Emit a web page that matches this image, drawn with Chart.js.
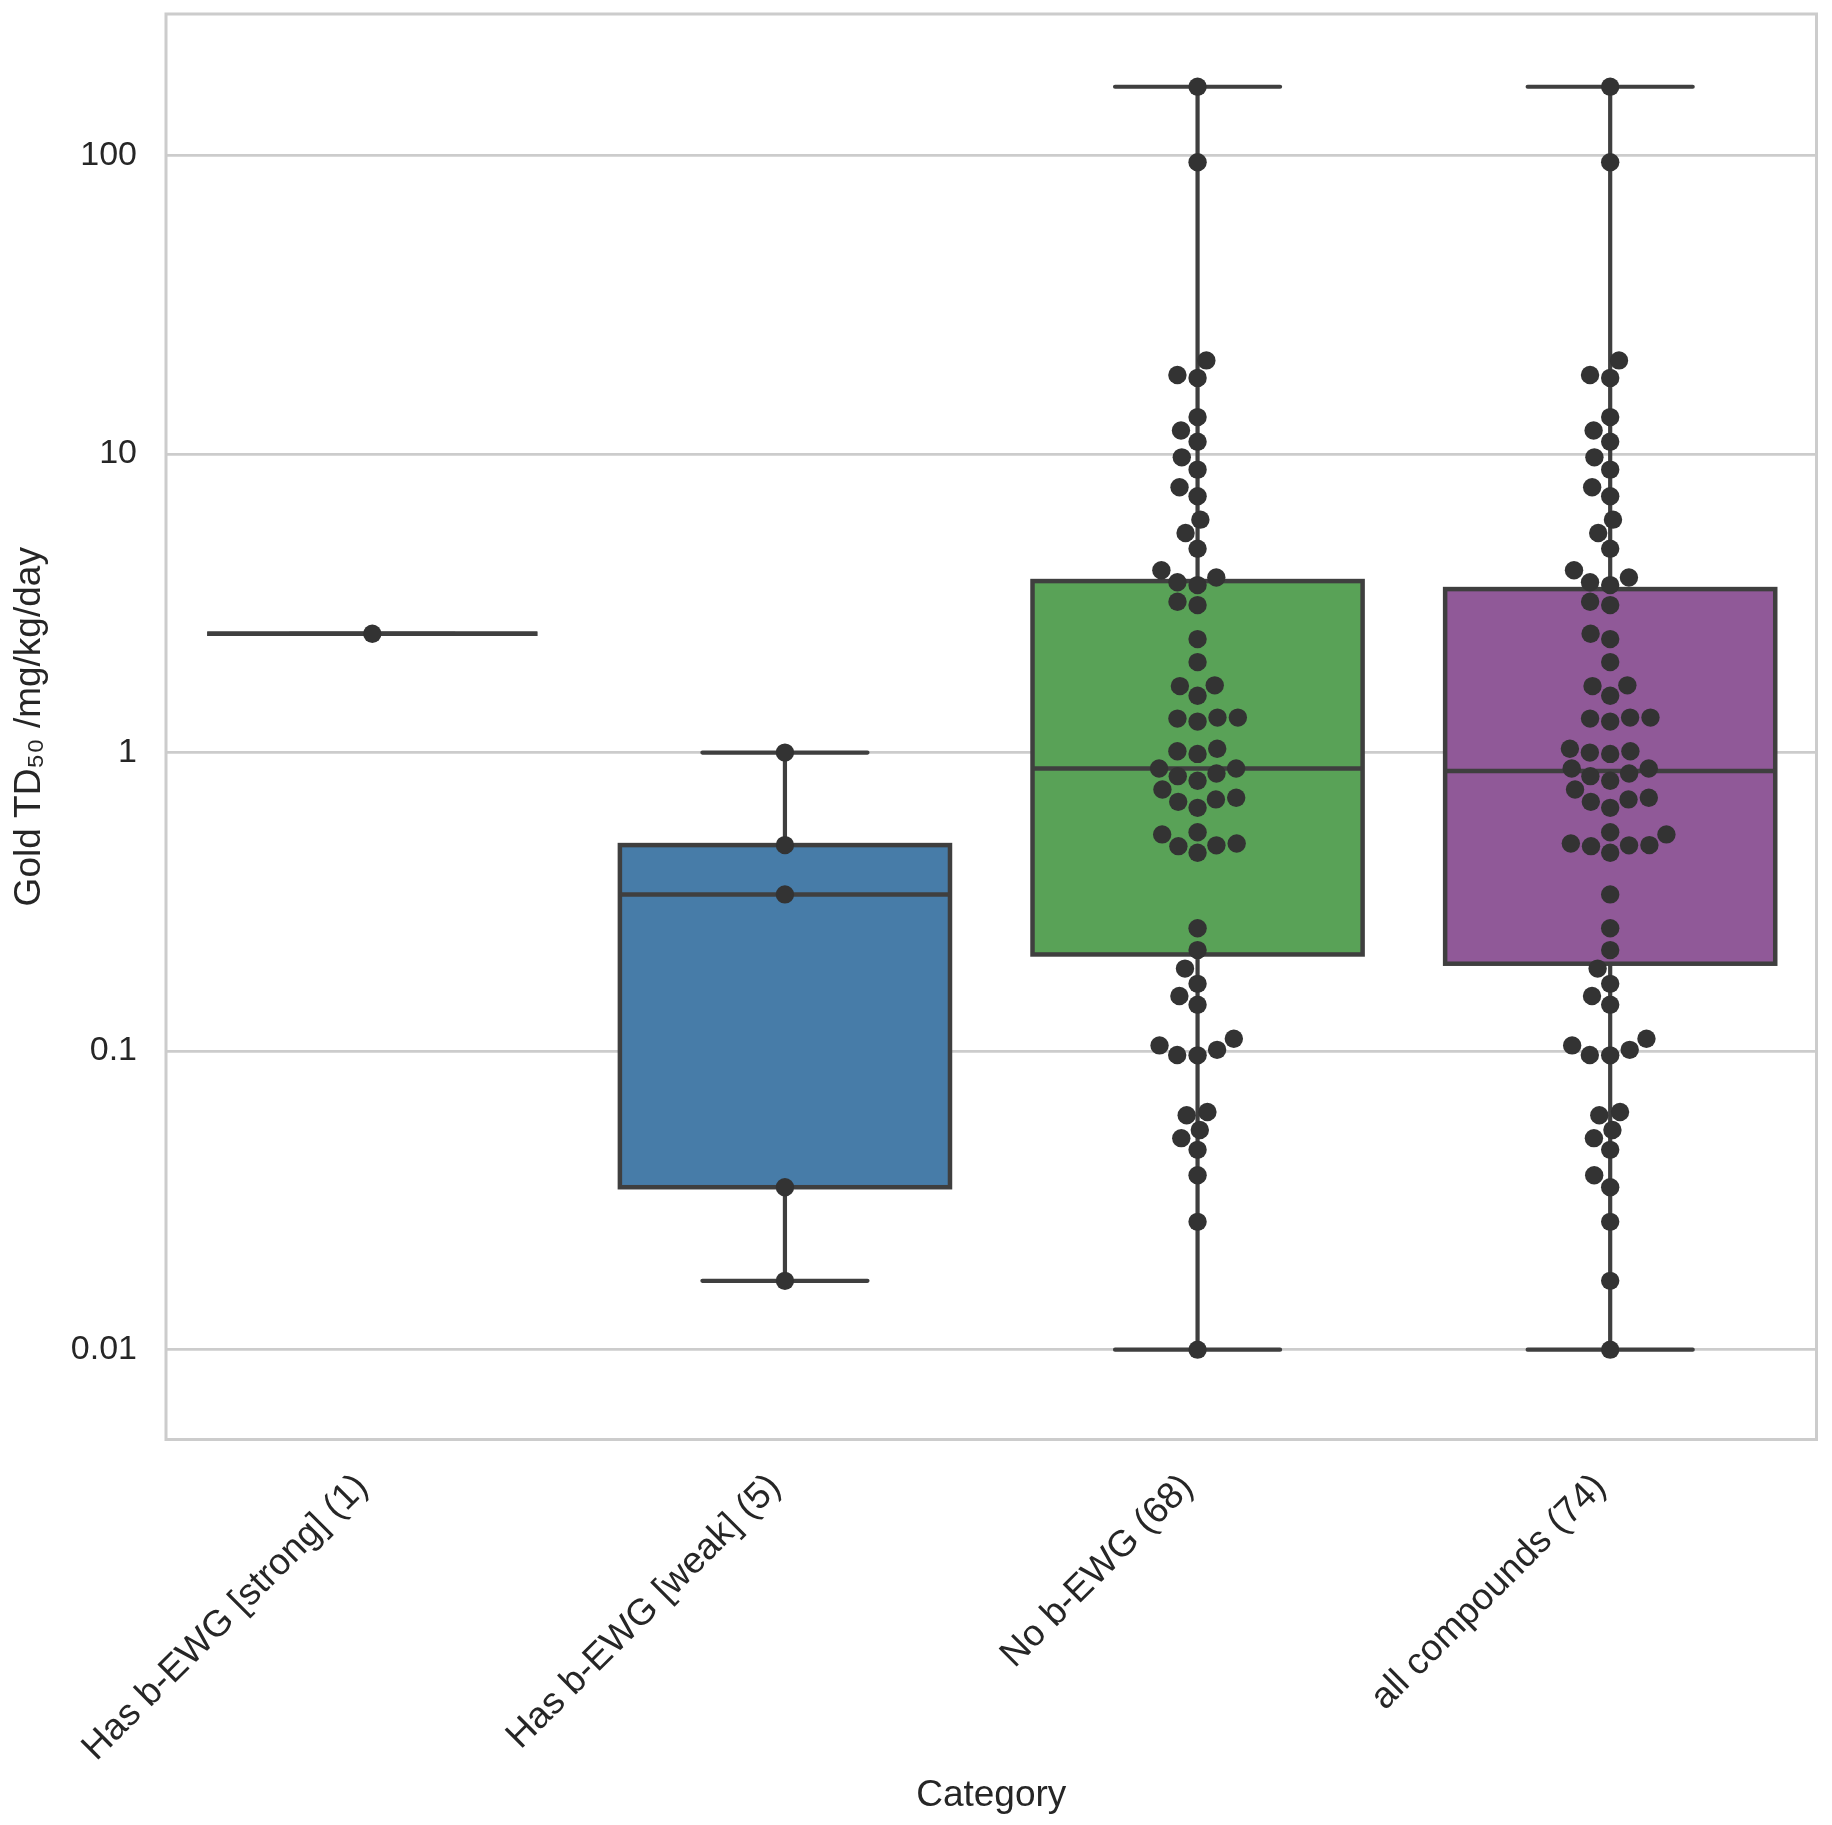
<!DOCTYPE html>
<html>
<head>
<meta charset="utf-8">
<script src="https://cdn.jsdelivr.net/npm/chart.js@4.4.1/dist/chart.umd.min.js"></script>
<style>
  body { margin: 0; background: #fff; }
</style>
</head>
<body>
<canvas id="myChart" width="1832" height="1825"></canvas>
<script>
// categories and values
const categories = ['Has b-EWG [strong] (1)', 'Has b-EWG [weak] (5)', 'No b-EWG (68)', 'all compounds (74)'];
const strongValues = [2.5];
const weakValues = [1.0, 0.49, 0.335, 0.035, 0.017];
const noEwgValues = [
    170, 95, 20.6, 18.4, 18.0, 13.3, 12.0, 11.0, 9.75, 8.87,
    7.74, 7.22, 6.03, 5.44, 4.82, 4.08, 3.86, 3.72, 3.64, 3.20,
    3.12, 2.40, 2.01, 1.68, 1.67, 1.55, 1.31, 1.31, 1.30, 1.27,
    1.03, 1.01, 0.99, 0.885, 0.885, 0.851, 0.834, 0.805, 0.752, 0.706,
    0.697, 0.684, 0.653, 0.541, 0.532, 0.496, 0.489, 0.486, 0.462, 0.258,
    0.218, 0.189, 0.168, 0.153, 0.143, 0.110, 0.1045, 0.101, 0.097, 0.0968,
    0.0625, 0.061, 0.0544, 0.0511, 0.0467, 0.0384, 0.0268, 0.01
];
// all compounds = the three groups together
const allValues = noEwgValues.concat(weakValues, strongValues);
const groups = [strongValues, weakValues, noEwgValues, allValues];

const yTickValues = [0.01, 0.1, 1, 10, 100];
const yTickLabels = ['0.01', '0.1', '1', '10', '100'];

const boxColors = ['#cb3335', '#477ca8', '#59a257', '#905998'];
const lineColor = '#3f3f3f';
const dotColor = '#333333';
const boxWidth = 0.8;
const capWidth = 0.4;
const dotRadius = 9.2;
const swarmRadius = 9.7;

Chart.defaults.font.family = '"Liberation Sans", Arial, sans-serif';
Chart.defaults.color = '#262626';

function percentile(vals, p) {
    const s = vals.slice().sort((a, b) => a - b);
    const pos = (s.length - 1) * p;
    const lo = Math.floor(pos), hi = Math.ceil(pos);
    return s[lo] + (s[hi] - s[lo]) * (pos - lo);
}

function boxStats(vals) {
    const q1 = percentile(vals, 0.25);
    const med = percentile(vals, 0.5);
    const q3 = percentile(vals, 0.75);
    // whiskers at 1.5 IQR, worked out on the log axis
    const l1 = Math.log10(q1), l3 = Math.log10(q3);
    const loFence = Math.pow(10, l1 - 1.5 * (l3 - l1));
    const hiFence = Math.pow(10, l3 + 1.5 * (l3 - l1));
    const inside = vals.filter(v => v >= loFence && v <= hiFence);
    return { q1, med, q3, lo: Math.min(...inside), hi: Math.max(...inside) };
}

// seaborn style beeswarm, in pixels; u is pixel height (up positive)
function beeswarm(us, r) {
    const order = us.map((u, k) => k).sort((a, b) => us[a] - us[b]);
    const placed = [];
    const offsets = new Array(us.length).fill(0);
    order.forEach(k => {
        const u = us[k];
        const neighbors = [];
        for (let j = placed.length - 1; j >= 0; j--) {
            if (u - placed[j].u < 2 * r) neighbors.push(placed[j]);
            else break;
        }
        const cands = [0];
        let leftFirst = true;
        neighbors.forEach(nb => {
            const dy = u - nb.u;
            const dx = Math.sqrt(Math.max(4 * r * r - dy * dy, 0)) * 1.05;
            if (leftFirst) cands.push(nb.x - dx, nb.x + dx);
            else cands.push(nb.x + dx, nb.x - dx);
            leftFirst = !leftFirst;
        });
        cands.sort((a, b) => Math.abs(a) - Math.abs(b));
        let x = cands.find(c => neighbors.every(nb => (c - nb.x) ** 2 + (u - nb.u) ** 2 >= 4 * r * r - 1e-6));
        if (x === undefined) x = cands[cands.length - 1];
        placed.push({ x, u });
        offsets[k] = x;
    });
    return offsets;
}

const boxPlugin = {
    id: 'boxes',
    beforeDatasetsDraw(chart) {
        const { ctx, chartArea, scales: { x, y } } = chart;
        ctx.save();
        // frame
        ctx.strokeStyle = '#cccccc';
        ctx.lineWidth = 3;
        ctx.strokeRect(chartArea.left, chartArea.top, chartArea.right - chartArea.left, chartArea.bottom - chartArea.top);

        groups.forEach((vals, i) => {
            const st = boxStats(vals);
            const cx = x.getPixelForValue(i);
            const bl = x.getPixelForValue(i - boxWidth / 2), br = x.getPixelForValue(i + boxWidth / 2);
            const cl = x.getPixelForValue(i - capWidth / 2), cr = x.getPixelForValue(i + capWidth / 2);
            const yq1 = y.getPixelForValue(st.q1), yq3 = y.getPixelForValue(st.q3);
            const ymed = y.getPixelForValue(st.med);
            const ylo = y.getPixelForValue(st.lo), yhi = y.getPixelForValue(st.hi);

            ctx.strokeStyle = lineColor;
            ctx.lineCap = 'round';
            ctx.lineWidth = 4.2;
            // whiskers and caps
            ctx.beginPath();
            ctx.moveTo(cx, yq3); ctx.lineTo(cx, yhi);
            ctx.moveTo(cx, yq1); ctx.lineTo(cx, ylo);
            ctx.moveTo(cl, yhi); ctx.lineTo(cr, yhi);
            ctx.moveTo(cl, ylo); ctx.lineTo(cr, ylo);
            ctx.stroke();
            // box
            ctx.fillStyle = boxColors[i];
            ctx.fillRect(bl, yq3, br - bl, yq1 - yq3);
            ctx.lineWidth = 4.5;
            ctx.lineCap = 'butt';
            ctx.strokeRect(bl, yq3, br - bl, yq1 - yq3);
            // median
            ctx.beginPath();
            ctx.moveTo(bl, ymed); ctx.lineTo(br, ymed);
            ctx.stroke();
        });
        ctx.restore();
    }
};

const ctx = document.getElementById('myChart').getContext('2d');

const myChart = new Chart(ctx, {
    type: 'scatter',
    data: {
        datasets: groups.map((vals, i) => ({
            label: categories[i],
            data: vals.map(v => ({ x: i, y: v })),
            backgroundColor: dotColor,
            borderWidth: 0,
            pointRadius: dotRadius,
            pointHoverRadius: dotRadius
        }))
    },
    options: {
        responsive: false,
        animation: false,
        layout: {
            padding: { top: 14, right: 15.5, left: 0, bottom: 0 }
        },
        scales: {
            x: {
                type: 'linear',
                min: -0.5,
                max: 3.5,
                afterBuildTicks: axis => {
                    axis.ticks = categories.map((c, i) => ({ value: i }));
                },
                afterFit: axis => {
                    axis.height = 385.5;
                    axis.paddingLeft = 0;
                    axis.paddingRight = 0;
                },
                grid: { display: false },
                border: { display: false },
                ticks: {
                    autoSkip: false,
                    minRotation: 45,
                    maxRotation: 45,
                    padding: 18,
                    labelOffset: -10,
                    font: { size: 37 },
                    callback: (v, idx) => categories[idx]
                },
                title: {
                    display: true,
                    text: 'Category',
                    font: { size: 37 },
                    padding: { top: 0, bottom: 7 }
                }
            },
            y: {
                type: 'logarithmic',
                min: 0.005,
                max: 298,
                afterBuildTicks: axis => {
                    axis.ticks = yTickValues.map(v => ({ value: v, major: true }));
                },
                afterFit: axis => {
                    axis.width = 166;
                    axis.paddingTop = 0;
                    axis.paddingBottom = 0;
                },
                grid: {
                    color: '#cccccc',
                    lineWidth: 2.7,
                    drawTicks: false
                },
                border: { display: false },
                ticks: {
                    padding: 29,
                    font: { size: 34 },
                    callback: (v, idx) => yTickLabels[idx]
                },
                title: {
                    display: true,
                    text: 'Gold TD\u2085\u2080 /mg/kg/day',
                    font: { size: 37 },
                    padding: { top: 8, bottom: 0 }
                }
            }
        },
        plugins: {
            legend: { display: false },
            tooltip: { enabled: false }
        }
    },
    plugins: [boxPlugin]
});

// spread the dots sideways once the scales are known
const xs = myChart.scales.x, ys = myChart.scales.y;
const unit = xs.getPixelForValue(1) - xs.getPixelForValue(0);
myChart.data.datasets.forEach((ds, i) => {
    const us = groups[i].map(v => -ys.getPixelForValue(v));
    const offs = beeswarm(us, swarmRadius);
    ds.data = groups[i].map((v, k) => ({ x: i + offs[k] / unit, y: v }));
});
myChart.update('none');
</script>
</body>
</html>
